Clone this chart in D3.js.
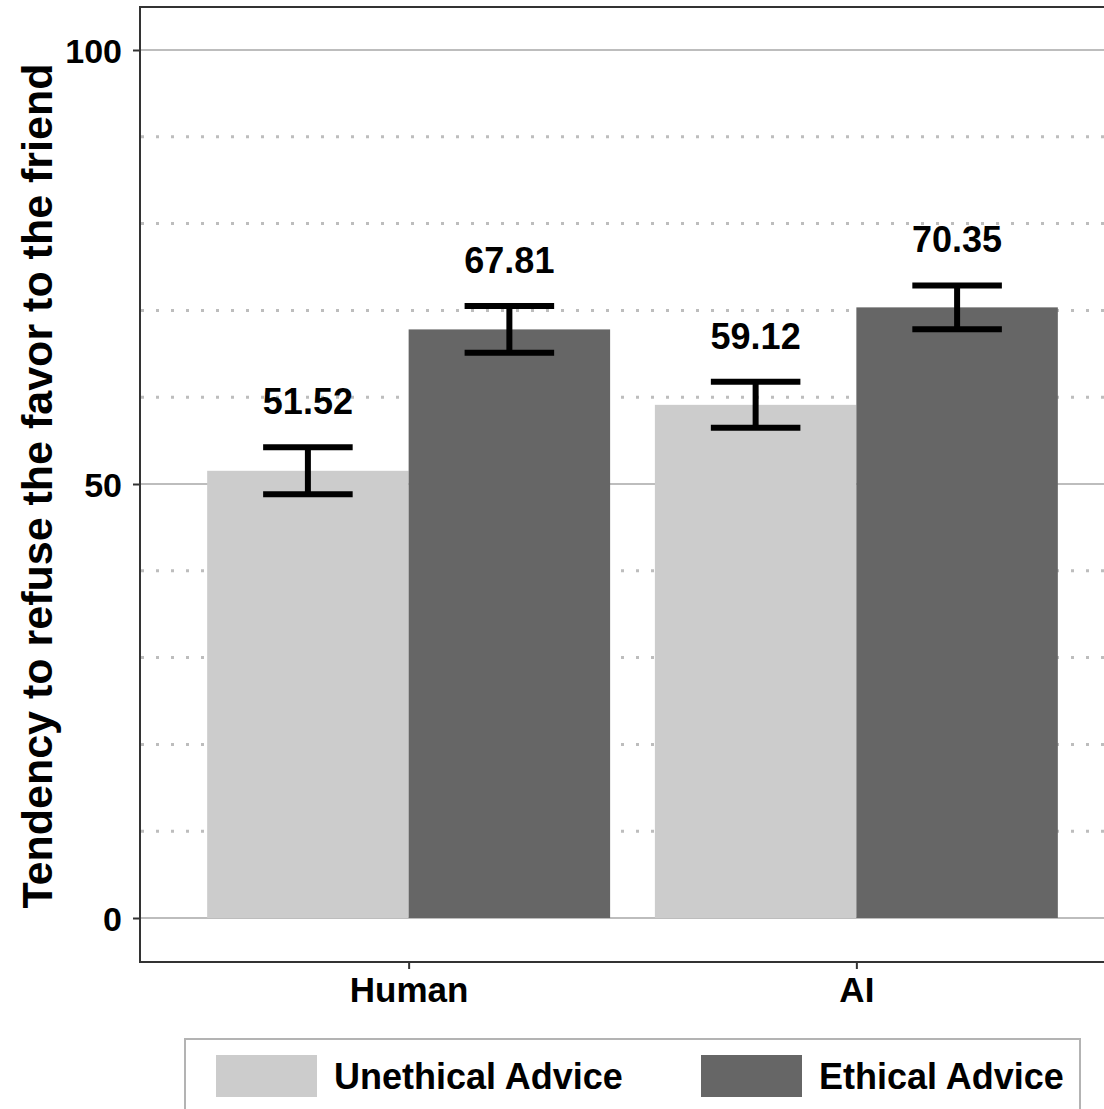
<!DOCTYPE html>
<html>
<head>
<meta charset="utf-8">
<script src="https://cdn.jsdelivr.net/npm/d3@7"></script>
<style>
  body { margin: 0; background: #fff; }
  svg text { font-family: "Liberation Sans", Arial, sans-serif; font-weight: bold; fill: #000; }
</style>
</head>
<body>
<div id="chart"></div>
<script>
/* grouped bars with error bars */

const sources = ["Human", "AI"];
const adviceTypes = ["Unethical Advice", "Ethical Advice"];
const means = {
    "Human": [51.52, 67.81],
    "AI": [59.12, 70.35]
};
const errors = {
    "Human": [2.7, 2.7],
    "AI": [2.65, 2.53]
};
const yTicks = [0, 50, 100];
const yMinor = [10, 20, 30, 40, 60, 70, 80, 90];
const colors = ["#cccccc", "#666666"];

const width = 1104,
    height = 1109,
    panel = ({ left: 140, top: 7, right: 1125, bottom: 962 });

const svg = d3.select("#chart")
    .append("svg")
    .attr("width", width)
    .attr("height", height);

svg.append("defs").append("clipPath").attr("id", "panel")
    .append("rect")
    .attr("x", panel.left).attr("y", panel.top)
    .attr("width", panel.right - panel.left).attr("height", panel.bottom - panel.top);

let y = d3.scaleLinear()
    .domain([0, 100])
    .range([918, 50]);

// ggplot-style discrete axis with 0.6 expansion on each side
let x = d3.scalePoint()
    .domain(sources)
    .range([panel.left, panel.right])
    .padding(0.6);

let step = x.step();

let dodge = d3.scaleBand()
    .domain(adviceTypes)
    .range([-0.45 * step, 0.45 * step]);

const plot = svg.append("g").attr("clip-path", "url(#panel)");

// grid lines
plot.selectAll(".minor")
    .data(yMinor)
    .join("line")
    .attr("x1", panel.left + 1).attr("x2", panel.right)
    .attr("y1", d => y(d)).attr("y2", d => y(d))
    .attr("stroke", "#bdbdbd")
    .attr("stroke-width", 3)
    .attr("stroke-dasharray", "3,12");

plot.selectAll(".major")
    .data(yTicks)
    .join("line")
    .attr("x1", panel.left).attr("x2", panel.right)
    .attr("y1", d => y(d)).attr("y2", d => y(d))
    .attr("stroke", "#bdbdbd")
    .attr("stroke-width", 2);

// bars
const rows = sources.flatMap(s => adviceTypes.map((a, i) => ({
    source: s, advice: a, i: i, mean: means[s][i], se: errors[s][i]
})));

plot.selectAll(".bar")
    .data(rows)
    .join("rect")
    .attr("x", d => x(d.source) + dodge(d.advice))
    .attr("width", dodge.bandwidth())
    .attr("y", d => y(d.mean))
    .attr("height", d => y(0) - y(d.mean))
    .attr("fill", d => colors[d.i]);

// error bars
const capW = 0.2 * step;
const eb = plot.selectAll(".eb")
    .data(rows)
    .join("g")
    .attr("transform", d => `translate(${x(d.source) + dodge(d.advice) + dodge.bandwidth() / 2},0)`)
    .attr("stroke", "#000")
    .attr("stroke-width", 6);

eb.append("line")
    .attr("y1", d => y(d.mean + d.se)).attr("y2", d => y(d.mean - d.se));
eb.append("line")
    .attr("x1", -capW / 2).attr("x2", capW / 2)
    .attr("y1", d => y(d.mean + d.se)).attr("y2", d => y(d.mean + d.se));
eb.append("line")
    .attr("x1", -capW / 2).attr("x2", capW / 2)
    .attr("y1", d => y(d.mean - d.se)).attr("y2", d => y(d.mean - d.se));

// value labels
plot.selectAll(".lbl")
    .data(rows)
    .join("text")
    .attr("x", d => x(d.source) + dodge(d.advice) + dodge.bandwidth() / 2)
    .attr("y", d => y(d.mean + d.se) - 33)
    .attr("text-anchor", "middle")
    .attr("font-size", 36)
    .text(d => d.mean.toFixed(2));

// panel border
svg.append("rect")
    .attr("x", panel.left).attr("y", panel.top)
    .attr("width", panel.right - panel.left).attr("height", panel.bottom - panel.top)
    .attr("fill", "none")
    .attr("stroke", "#333")
    .attr("stroke-width", 2);

// axes
const yAxis = svg.append("g")
    .attr("transform", `translate(${panel.left},0)`)
    .call(d3.axisLeft(y).tickValues(yTicks).tickSize(7).tickPadding(11).tickFormat(d3.format("d")));
yAxis.select(".domain").remove();
yAxis.selectAll("line").attr("stroke", "#333").attr("stroke-width", 2);
yAxis.selectAll("text").attr("font-size", 34).attr("dy", "0.36em").attr("font-family", null);

const xAxis = svg.append("g")
    .attr("transform", `translate(0,${panel.bottom})`)
    .call(d3.axisBottom(x).tickSize(7).tickPadding(8));
xAxis.select(".domain").remove();
xAxis.selectAll("line").attr("stroke", "#333").attr("stroke-width", 2);
xAxis.selectAll("text").attr("font-size", 35).attr("dy", "0.71em").attr("font-family", null);

// y title
svg.append("text")
    .attr("transform", "translate(52,486) rotate(-90)")
    .attr("text-anchor", "middle")
    .attr("font-size", 43)
    .text("Tendency to refuse the favor to the friend");

// legend
const legend = svg.append("g");
legend.append("rect")
    .attr("x", 185).attr("y", 1039)
    .attr("width", 895).attr("height", 90)
    .attr("fill", "none")
    .attr("stroke", "#b3b3b3")
    .attr("stroke-width", 2);

const keyX = [216, 701];
const items = legend.selectAll(".key")
    .data(adviceTypes)
    .join("g")
    .attr("transform", (d, i) => `translate(${keyX[i]},1055)`);
items.append("rect")
    .attr("width", 101).attr("height", 42)
    .attr("fill", (d, i) => colors[i]);
items.append("text")
    .attr("x", 118).attr("y", 21)
    .attr("dy", "0.36em")
    .attr("font-size", 36)
    .text(d => d);
</script>
</body>
</html>
